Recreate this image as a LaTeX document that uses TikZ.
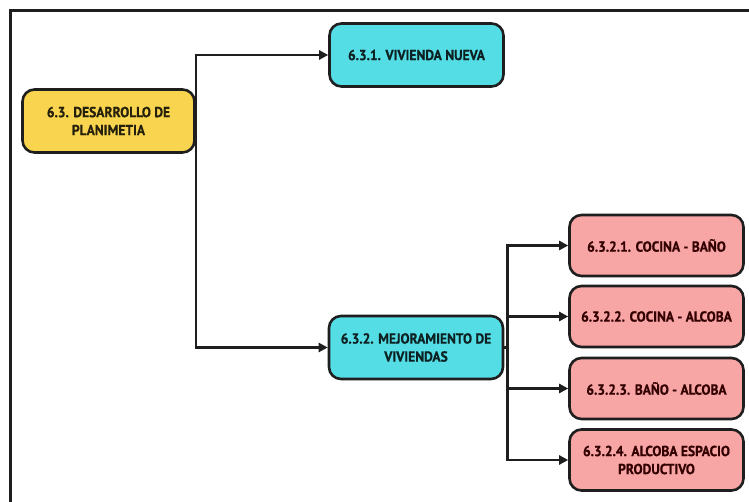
\documentclass[tikz,border=0pt]{standalone}
\usepackage{fontspec}
\setmainfont{PT Sans}[BoldFont={PT Sans Bold},BoldFeatures={FakeStretch=0.93,FakeBold=0.6}]
\usetikzlibrary{arrows.meta}
\definecolor{yel}{HTML}{F9D44E}
\definecolor{cya}{HTML}{55DDE6}
\definecolor{pnk}{HTML}{F8A5A5}
\definecolor{edge}{HTML}{1E1E1E}
\tikzset{
  box/.style={draw=edge, line width=2.6pt, rounded corners=12pt, align=center,
    font=\fontsize{14.5}{18}\selectfont\bfseries, inner sep=2pt},
  ybox/.style={box, fill=yel, text=black!85!yel, minimum width=172pt, minimum height=63pt},
  cbox/.style={box, fill=cya, text=black!85!cya, minimum width=174pt, minimum height=63pt},
  pbox/.style={box, fill=pnk, text=black!80!red, minimum width=174pt, minimum height=61pt},
  arr/.style={draw=edge, line width=2.4pt, -{Triangle[length=9pt,width=9pt]}},
  frame/.style={draw=edge, line width=2.4pt}
}
\begin{document}
\begin{tikzpicture}[x=1pt,y=-1pt]
\useasboundingbox (0,0) rectangle (749,502);
\fill[white] (0,0) rectangle (749,502);
\draw[frame] (10.5,503) -- (10.5,10.5) -- (750,10.5);
\node[ybox] (plan) at (108.5,121) {6.3. DESARROLLO DE\\PLANIMETIA};
\node[cbox] (nueva) at (416.5,55) {6.3.1. VIVIENDA NUEVA};
\node[cbox] (mejora) at (416,347.5) {6.3.2. MEJORAMIENTO DE\\VIVIENDAS};
\node[pbox] (p1) at (656.5,245.5) {6.3.2.1. COCINA - BAÑO};
\node[pbox] (p2) at (656.5,316.5) {6.3.2.2. COCINA - ALCOBA};
\node[pbox] (p3) at (656.5,388.5) {6.3.2.3. BAÑO - ALCOBA};
\node[pbox] (p4) at (656.5,460) {6.3.2.4. ALCOBA ESPACIO\\PRODUCTIVO};
\draw[arr] (plan.east) |- (nueva.west);
\draw[arr] (plan.east) |- (mejora.west);
\coordinate (j2) at ([xshift=3pt]mejora.east);
\draw[frame] (mejora.east) -- (j2);
\draw[arr] (j2) |- (p1.west);
\draw[arr] (j2) |- (p2.west);
\draw[arr] (j2) |- (p3.west);
\draw[arr] (j2) |- (p4.west);
\end{tikzpicture}
\end{document}
